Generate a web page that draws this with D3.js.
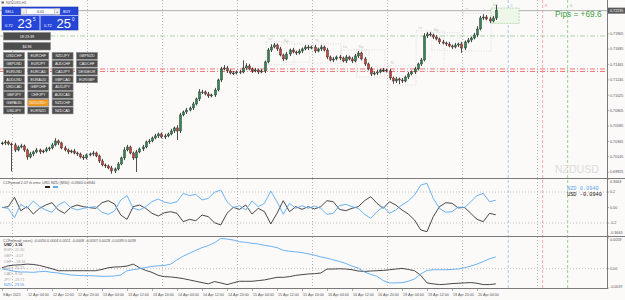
<!DOCTYPE html>
<html><head><meta charset="utf-8">
<script src="https://cdn.jsdelivr.net/npm/d3@7/dist/d3.min.js"></script>
<style>body{margin:0;background:#fcf9f9;} svg{display:block;font-family:"Liberation Sans",Arial,sans-serif;}</style>
</head><body><svg id="c" width="625" height="300"></svg>
<script>
// ---------------- DATA ----------------
const symbolName = "NZDUSD,H1";
const firstOpen = 0.70330;
const closes = [
0.70342,0.70357,0.70328,0.70314,0.70242,0.70285,0.70300,0.70242,0.70142,0.70185,
0.70214,0.70242,0.70214,0.70228,0.70257,0.70271,0.70314,0.70371,0.70342,0.70271,
0.70242,0.70214,0.70228,0.70199,0.70185,0.70142,0.70128,0.70171,0.70185,0.70199,
0.70157,0.70085,0.70028,0.70014,0.69985,0.69942,0.69971,0.70042,0.70128,0.70242,
0.70285,0.70199,0.70128,0.70214,0.70257,0.70285,0.70357,0.70371,0.70414,0.70443,
0.70471,0.70428,0.70443,0.70471,0.70514,0.70557,0.70514,0.70743,0.70786,0.70814,
0.70843,0.70900,0.70972,0.71072,0.71072,0.71043,0.71015,0.71029,0.71100,0.71243,
0.71401,0.71415,0.71372,0.71343,0.71343,0.71358,0.71358,0.71415,0.71444,0.71401,
0.71372,0.71386,0.71358,0.71372,0.71501,0.71672,0.71715,0.71744,0.71687,0.71601,
0.71544,0.71615,0.71672,0.71644,0.71629,0.71658,0.71687,0.71715,0.71701,0.71715,
0.71658,0.71687,0.71715,0.71672,0.71572,0.71529,0.71544,0.71572,0.71558,0.71515,
0.71572,0.71544,0.71515,0.71587,0.71629,0.71544,0.71472,0.71401,0.71329,0.71343,
0.71358,0.71386,0.71386,0.71372,0.71272,0.71229,0.71258,0.71243,0.71229,0.71286,
0.71329,0.71358,0.71401,0.71472,0.71529,0.71873,0.71901,0.71887,0.71858,0.71830,
0.71787,0.71772,0.71758,0.71730,0.71715,0.71744,0.71758,0.71701,0.71787,0.71815,
0.71844,0.71887,0.71973,0.72130,0.72144,0.72116,0.72087,0.72130,0.72235];
// wick lengths in pips (0.0001)
const highWick = [2,3,2,2,3,2,3,2,2,3, 2,3,2,2,3,2,3,4,2,2, 3,2,2,3,2,2,3,2,2,3, 2,2,3,2,2,3,2,3,2,4, 3,2,2,3,2,3,2,3,2,3, 2,2,3,2,3,2,4,3,2,3, 2,3,2,4,3,2,3,2,3,2, 3,4,3,2,3,2,3,11,4,3, 2,3,2,3,2,3,4,3,2,3, 2,3,2,3,2,3,2,3,3,2, 3,2,3,2,3,2,3,2,3,2, 3,2,3,3,3,2,3,2,3,2, 3,2,3,2,3,2,3,2,3,2, 3,2,3,2,3,4,3,3,2,3, 2,3,2,3,2,3,2,3,2,3, 2,3,4,3,4,3,3,3,8];
const lowWick = [2,3,2,38,3,2,2,3,4,2, 3,2,3,2,2,3,2,2,3,2, 2,3,2,2,3,2,3,2,2,3, 2,3,2,3,2,4,3,2,2,3, 2,2,3,20,2,3,2,3,2,2, 3,2,3,2,2,3,13,3,2,3, 2,3,2,3,3,2,3,2,3,2, 3,2,3,2,3,2,3,2,3,2, 3,2,3,2,3,2,3,2,3,2, 3,2,3,2,3,2,3,2,3,2, 3,2,3,2,3,2,3,2,3,2, 3,2,3,2,3,2,3,2,3,2, 3,2,3,2,3,4,3,6,3,2, 3,2,3,2,3,2,3,2,3,2, 3,2,3,2,3,2,3,7,3,2, 3,2,3,2,3,2,3,2,3];

const timeLabels = ["9 Apr 2021","12 Apr 04:00","12 Apr 12:00","12 Apr 20:00","13 Apr 04:00","13 Apr 12:00","13 Apr 20:00","14 Apr 04:00","14 Apr 12:00","14 Apr 20:00","15 Apr 04:00","15 Apr 12:00","15 Apr 20:00","16 Apr 04:00","16 Apr 12:00","16 Apr 20:00","19 Apr 04:00","19 Apr 12:00","19 Apr 20:00","20 Apr 04:00"];
const timeLabelBars = [0,8,16,24,32,40,48,56,64,72,80,88,96,104,112,120,128,136,144,152];

const priceTicks = [0.71905,0.71685,0.71465,0.71245,0.71025,0.70805,0.70585,0.70365,0.70145,0.69925];
const bidPrice = 0.72235;
const bidText = ["0.72","23","5"];
const askText = ["0.72","25","0"];
const lotText = "0.01";
const greenLevel = 0.71873;
const redLevels = [0.71401,0.71365];
const pipsText = "Pips = +69.6";
const markerBars = [162,173,181];
const markerLabels = ["2","R","S"];
const markerColors = ["#8ec3ec","#f09a9a","#7fce6f"];

// sessions: [name, start bar]
const sessions = [["Ln",85],["Ny",90],["Tk",100],["Ln",109],["Ny",114],["Tk",124],["Ln",133],["Ny",138],["Tk",148]];
const currentSession = ["Ln",157];

// CCFp indicator 1 (every second bar)
const nzd1 = [0.002,-0.011,-0.131,0.041,-0.011,0.084,0.011,-0.032,-0.062,0.032,
0.075,-0.002,-0.032,-0.011,0.002,0.011,-0.062,-0.088,-0.045,0.097,
0.153,-0.011,-0.032,0.011,0.075,0.110,0.067,0.054,0.075,0.183,
0.153,0.170,0.097,0.118,0.196,0.226,0.075,-0.002,0.024,-0.032,
0.084,0.011,0.054,0.213,0.075,-0.088,0.054,-0.011,0.024,-0.011,
0.019,-0.011,-0.088,-0.075,0.024,0.041,0.011,-0.011,-0.088,-0.140,
-0.054,0.011,-0.075,-0.032,0.032,0.084,0.161,0.290,0.312,0.118,
-0.011,-0.062,-0.054,0.006,-0.002,0.075,0.153,0.183,0.075,0.094];
const usd1 = [-0.002,0.011,0.131,-0.041,0.011,-0.084,-0.011,0.032,0.062,-0.032,
-0.075,0.002,0.032,0.011,-0.002,-0.011,0.062,0.088,0.045,-0.097,
-0.153,0.011,0.032,-0.011,-0.075,-0.110,-0.067,-0.054,-0.075,-0.183,
-0.153,-0.170,-0.097,-0.118,-0.196,-0.226,-0.075,0.002,-0.024,0.032,
-0.084,-0.011,-0.054,-0.213,-0.075,0.088,-0.054,0.011,-0.024,0.011,
-0.019,0.011,0.088,0.075,-0.024,-0.041,-0.011,0.011,0.088,0.140,
0.054,-0.011,0.075,0.032,-0.032,-0.084,-0.161,-0.290,-0.312,-0.118,
0.011,0.062,0.054,-0.006,0.002,-0.075,-0.153,-0.183,-0.075,-0.094];
const ind1Title = "CCFpmod 2.07 rk emv: USD NZD (M30) -0.0940 0.0940";
const ind1Ticks = [0.3663,0.2,0,-0.2,-0.3663];
const ind1TickText = ["0.3663","0.2","0.00","-0.2","-0.3663"];

// CCFp indicator 2 (every second bar)
const nzd2 = [-0.00006,-0.00025,-0.00051,-0.00063,-0.00063,-0.00070,-0.00057,-0.00051,-0.00070,-0.00082,
-0.00101,-0.00120,-0.00127,-0.00133,-0.00133,-0.00139,-0.00146,-0.00146,-0.00139,-0.00120,
-0.00038,-0.00019,0,0.00025,0.00044,0.00057,0.00063,0.00089,0.00171,0.00241,
0.00298,0.00354,0.00405,0.00443,0.00500,0.00582,0.00570,0.00551,0.00519,0.00506,
0.00487,0.00475,0.00449,0.00430,0.00405,0.00354,0.00335,0.00323,0.00310,0.00285,
0.00260,0.00228,0.00203,0.00171,0.00139,0.00101,0.00051,0.00013,-0.00063,-0.00108,
-0.00146,-0.00228,-0.00272,-0.00272,-0.00266,-0.00241,-0.00196,-0.00101,-0.00032,-0.00019,
-0.00019,-0.00019,-0.00013,-0.00006,0.00019,0.00051,0.00089,0.00139,0.00190,0.00228];
const usd2 = [0.00019,0.00057,0.00070,0.00076,0.00089,0.00082,0.00063,0.00032,0,-0.00038,
-0.00038,-0.00038,-0.00038,-0.00038,-0.00038,-0.00038,-0.00013,0.00019,0.00032,0.00038,
0.00051,0.00089,0.00019,-0.00032,-0.00070,-0.00127,-0.00152,-0.00158,-0.00171,-0.00190,
-0.00215,-0.00241,-0.00266,-0.00291,-0.00247,-0.00272,-0.00304,-0.00272,-0.00241,-0.00241,
-0.00241,-0.00228,-0.00215,-0.00190,-0.00165,-0.00165,-0.00152,-0.00127,-0.00114,-0.00101,
-0.00095,-0.00082,-0.00006,-0.00006,0,-0.00006,-0.00019,-0.00044,-0.00051,-0.00044,
-0.00038,-0.00032,-0.00019,-0.00006,0.00006,-0.00013,-0.00038,-0.00127,-0.00272,-0.00291,
-0.00304,-0.00298,-0.00285,-0.00279,-0.00272,-0.00266,-0.00279,-0.00304,-0.00304,-0.00291];
const ind2Title = "CCFp(mod_rates) -0.0050 0.0004 0.0051 -0.0008 -0.0037 0.0028 -0.0039 0.0039";
const ind2Ticks = [0.0059,0,-0.0037];
const ind2TickText = ["0.0059","0.00","-0.0037"];
const strengthNames = ["USD","EUR","GBP","CHF","AUD","CAD","JPY","NZD"];
const strengthValues = [3.16,20.90,-4.07,-18.34,20.27,8.54,-29.71,29.56];

const clockText = "18:23:39";
const profitText = "$4.96";
const symbols = [
 ["USDCHF","EURCHF","NZDJPY","GBPNZD"],
 ["GBPUSD","EURJPY","AUDCHF","CADCHF"],
 ["EURUSD","EURCAD","CADJPY","DE30EUR"],
 ["AUDUSD","EURAUD","GBPCAD","EURGBP"],
 ["USDCAD","GBPCHF","AUDJPY",""],
 ["GBPJPY","CHFJPY","AUDCAD",""],
 ["GBPAUD","NZDUSD \u2022","NZDCHF",""],
 ["USDJPY","EURNZD","NZDCAD",""]];
const activeSymbol = "NZDUSD \u2022";
const watermark = "NZDUSD";

// ---------------- DRAW ----------------
const W=625,H=300,AX=607;
const svg=d3.select("#c");
svg.append("rect").attr("width",W).attr("height",H).attr("fill","#fcf9f9");

const xBar=d3.scaleLinear().domain([0,158]).range([2,495.75]);
const yMain=d3.scaleLinear().domain([0.69927,0.72230]).range([172,11]);
const y1=d3.scaleLinear().domain([-0.2,0.2]).range([223,192]);
const y2=d3.scaleLinear().domain([-0.0037,0.0059]).range([288,238]);
const FS=3.7;

const bars=closes.map((c,i)=>{const o=i===0?firstOpen:closes[i-1];
  return {i,o,c,hi:Math.max(o,c)+highWick[i]*1e-4,lo:Math.min(o,c)-lowWick[i]*1e-4};});

// vertical grid
const gridX=d3.range(12,AX,75);
[[0,178],[179,236],[237,288]].forEach(([a,b])=>{
  svg.append("g").selectAll("line").data(gridX).join("line")
   .attr("x1",d=>d+0.5).attr("x2",d=>d+0.5).attr("y1",a).attr("y2",b)
   .attr("stroke","#9a9a9a").attr("stroke-width",0.7).attr("stroke-dasharray","1,2");
});

// main horizontal levels
svg.append("line").attr("x1",0).attr("x2",AX).attr("y1",yMain(bidPrice)).attr("y2",yMain(bidPrice))
  .attr("stroke","#9a9a9a").attr("stroke-width",0.8);
svg.append("line").attr("x1",0).attr("x2",AX).attr("y1",yMain(greenLevel)).attr("y2",yMain(greenLevel))
  .attr("stroke","#9fd39a").attr("stroke-width",0.9).attr("stroke-dasharray","5,2,1,2");
svg.append("g").selectAll("line").data(redLevels).join("line")
  .attr("x1",0).attr("x2",AX).attr("y1",d=>yMain(d)).attr("y2",d=>yMain(d))
  .attr("stroke","#e86a6a").attr("stroke-width",0.9).attr("stroke-dasharray","5,2,1,2");

// vertical markers
markerBars.forEach((b,k)=>{
  svg.append("line").attr("x1",xBar(b)).attr("x2",xBar(b)).attr("y1",0).attr("y2",288)
   .attr("stroke",markerColors[k]).attr("stroke-width",0.8).attr("stroke-dasharray","3,2");
  svg.append("text").attr("x",xBar(b)+2).attr("y",7).attr("font-size",FS).attr("fill",markerColors[k]).text(markerLabels[k]);
});

// session boxes
function sessExtent(s){const e=Math.min(158,s+8);const sl=bars.slice(s,e+1);
  return [d3.max(sl,d=>d.hi),d3.min(sl,d=>d.lo)];}
sessions.forEach(([n,s])=>{
  const [hi,lo]=sessExtent(s);
  const x0=xBar(s)-1.5,x1=xBar(s+8)+1.5;
  svg.append("rect").attr("x",x0).attr("y",yMain(hi)-1).attr("width",x1-x0).attr("height",yMain(lo)-yMain(hi)+2)
   .attr("fill","none").attr("stroke","#cfcfcf").attr("stroke-width",0.7).attr("stroke-dasharray","1,1.5");
  svg.append("text").attr("x",x0+2).attr("y",yMain(hi)-3).attr("font-size",FS).attr("fill","#c4c4c4").text(n);
});
{
  const [n,s]=currentSession;const [hi,lo]=sessExtent(s);
  const x0=xBar(s)-1.5,x1=xBar(s+8)+1.5;
  svg.append("rect").attr("x",x0).attr("y",yMain(hi)+3).attr("width",x1-x0).attr("height",yMain(lo)-yMain(hi)-2)
   .attr("fill","#eef7ea").attr("stroke","#9fd39a").attr("stroke-width",0.7).attr("stroke-dasharray","2,1");
  svg.append("text").attr("x",x0+2).attr("y",6).attr("font-size",FS).attr("fill","#6fbf5f").text(n);
}

// candles
const cg=svg.append("g");
cg.selectAll("line").data(bars).join("line")
  .attr("x1",d=>Math.round(xBar(d.i))+0.5).attr("x2",d=>Math.round(xBar(d.i))+0.5)
  .attr("y1",d=>yMain(d.hi)).attr("y2",d=>yMain(d.lo)).attr("stroke","#222").attr("stroke-width",0.8);
cg.selectAll("rect").data(bars).join("rect")
  .attr("x",d=>Math.round(xBar(d.i))-0.5).attr("width",2)
  .attr("y",d=>yMain(Math.max(d.o,d.c))).attr("height",d=>Math.max(0.8,Math.abs(yMain(d.o)-yMain(d.c))))
  .attr("fill",d=>d.c>=d.o?"#2f8a52":"#c94436").attr("stroke","#1a1a1a").attr("stroke-width",0.4);

// watermark & pips
svg.append("text").attr("x",555).attr("y",173).attr("font-size",10.5).attr("fill","#dcdcdc").text(watermark);
svg.append("text").attr("x",555).attr("y",17).attr("font-size",8.3).attr("fill","#3e9e3e").text(pipsText);

// indicator 1 grid and lines
[0.2,-0.2].forEach(v=>svg.append("line").attr("x1",0).attr("x2",AX).attr("y1",y1(v)).attr("y2",y1(v))
  .attr("stroke","#aaa").attr("stroke-width",0.7).attr("stroke-dasharray","1,2"));
const l1=d3.line().x((d,k)=>xBar(2*k)).y(d=>y1(d));
svg.append("path").attr("d",l1(usd1)).attr("fill","none").attr("stroke","#333").attr("stroke-width",0.9);
svg.append("path").attr("d",l1(nzd1)).attr("fill","none").attr("stroke","#5aaaf0").attr("stroke-width",0.9);
svg.append("text").attr("x",3).attr("y",184).attr("font-size",FS).attr("fill","#555").text(ind1Title);
svg.append("rect").attr("x",45).attr("y",186).attr("width",5).attr("height",2).attr("fill","#222");
svg.append("rect").attr("x",53).attr("y",186).attr("width",5).attr("height",2).attr("fill","#5aaaf0");
svg.append("text").attr("x",567).attr("y",190).attr("font-size",5.3).attr("font-family","Liberation Mono, monospace").attr("fill","#5aaaf0")
  .text("NZD   "+nzd1[nzd1.length-1].toFixed(4));
svg.append("text").attr("x",567).attr("y",196).attr("font-size",5.3).attr("font-family","Liberation Mono, monospace").attr("fill","#222")
  .text("USD  "+usd1[usd1.length-1].toFixed(4));

// indicator 2
svg.append("line").attr("x1",0).attr("x2",AX).attr("y1",y2(0)).attr("y2",y2(0))
  .attr("stroke","#aaa").attr("stroke-width",0.7).attr("stroke-dasharray","1,2");
const l2=d3.line().x((d,k)=>xBar(2*k)).y(d=>y2(d));
svg.append("path").attr("d",l2(usd2)).attr("fill","none").attr("stroke","#333").attr("stroke-width",0.9);
svg.append("path").attr("d",l2(nzd2)).attr("fill","none").attr("stroke","#5aaaf0").attr("stroke-width",0.9);
svg.append("text").attr("x",3).attr("y",241.5).attr("font-size",FS).attr("fill","#555").text(ind2Title);
strengthNames.forEach((n,k)=>{
  const col=n==="USD"?"#111":n==="NZD"?"#4a9ae8":"#a8a8a8";
  svg.append("text").attr("x",4).attr("y",245.5+5.85*k).attr("font-size",FS).attr("fill",col)
   .attr("font-weight",n==="USD"?"bold":"normal").text(n+" - "+strengthValues[k].toFixed(2));
});

// frames
svg.append("line").attr("x1",0).attr("x2",W).attr("y1",178.5).attr("y2",178.5).attr("stroke","#7a7a7a").attr("stroke-width",1);
svg.append("line").attr("x1",0).attr("x2",W).attr("y1",236.5).attr("y2",236.5).attr("stroke","#7a7a7a").attr("stroke-width",1);
svg.append("line").attr("x1",0).attr("x2",AX).attr("y1",288.5).attr("y2",288.5).attr("stroke","#7a7a7a").attr("stroke-width",1);
svg.append("line").attr("x1",AX+0.5).attr("x2",AX+0.5).attr("y1",0).attr("y2",289).attr("stroke","#7a7a7a").attr("stroke-width",1);

// right axes (labels clamped inside their panels)
function rlabel(y,t,lo,hi){const yl=Math.max(lo,Math.min(hi,y));
  svg.append("line").attr("x1",AX).attr("x2",AX+2).attr("y1",y).attr("y2",y).attr("stroke","#777").attr("stroke-width",0.6);
  svg.append("text").attr("x",AX+3).attr("y",yl).attr("dy","0.35em").attr("font-size",FS).attr("fill","#555").text(t);}
priceTicks.forEach(p=>rlabel(yMain(p),p.toFixed(5),2,176));
ind1Ticks.forEach((v,k)=>rlabel(y1(v),ind1TickText[k],181.5,232.5));
ind2Ticks.forEach((v,k)=>rlabel(y2(v),ind2TickText[k],240,286.5));
{const yb=yMain(bidPrice);
 svg.append("rect").attr("x",AX+1).attr("y",yb-3).attr("width",17).attr("height",6).attr("fill","#5a5a5a");
 svg.append("text").attr("x",AX+3).attr("y",yb).attr("dy","0.35em").attr("font-size",FS).attr("fill","#fff").text(bidPrice.toFixed(5));}

// time axis
timeLabelBars.forEach((b,k)=>{const x=Math.round(xBar(b))+0.5;
  svg.append("line").attr("x1",x).attr("x2",x).attr("y1",288).attr("y2",291).attr("stroke","#777").attr("stroke-width",0.6);
  svg.append("text").attr("x",x+0.5).attr("y",296).attr("font-size",FS).attr("fill","#555").text(timeLabels[k]);});

// title
svg.append("rect").attr("x",1.5).attr("y",1.5).attr("width",2.5).attr("height",2).attr("fill","#666");
svg.append("text").attr("x",6).attr("y",4.3).attr("font-size",3.6).attr("fill","#666").text(symbolName);

// trade panel
const tp=svg.append("g");
tp.append("rect").attr("x",2).attr("y",7).attr("width",76).attr("height",23).attr("fill","#2646d8").attr("stroke","#1733b0").attr("stroke-width",0.6);
tp.append("line").attr("x1",2).attr("x2",78).attr("y1",15.5).attr("y2",15.5).attr("stroke","#fff").attr("stroke-width",0.6);
tp.append("line").attr("x1",40).attr("x2",40).attr("y1",15.5).attr("y2",30).attr("stroke","#fff").attr("stroke-width",0.8);
tp.append("text").attr("x",5).attr("y",13).attr("font-size",FS).attr("fill","#fff").text("SELL");
tp.append("text").attr("x",63).attr("y",13).attr("font-size",FS).attr("fill","#fff").text("BUY");
tp.append("rect").attr("x",21).attr("y",8.5).attr("width",39).attr("height",6).attr("fill","#fff");
tp.append("rect").attr("x",21).attr("y",8.5).attr("width",5.5).attr("height",6).attr("fill","#eee").attr("stroke","#999").attr("stroke-width",0.4);
tp.append("rect").attr("x",54.5).attr("y",8.5).attr("width",5.5).attr("height",6).attr("fill","#eee").attr("stroke","#999").attr("stroke-width",0.4);
tp.append("text").attr("x",23).attr("y",13).attr("font-size",FS).attr("fill","#333").text("-");
tp.append("text").attr("x",56).attr("y",13).attr("font-size",FS).attr("fill","#333").text("+");
tp.append("text").attr("x",40.5).attr("y",13).attr("text-anchor","middle").attr("font-size",FS).attr("fill","#333").text(lotText);
[[bidText,4],[askText,43]].forEach(([t,x0])=>{
  tp.append("text").attr("x",x0+1).attr("y",27).attr("font-size",4).attr("fill","#fff").text(t[0]);
  tp.append("text").attr("x",x0+13.5).attr("y",28.3).attr("font-size",13).attr("fill","#fff").text(t[1]);
  tp.append("text").attr("x",x0+29).attr("y",21).attr("font-size",4.5).attr("fill","#fff").text(t[2]);
});
function btn(x,y,w,h,t,fill){
  tp.append("rect").attr("x",x+0.5).attr("y",y+0.5).attr("width",w).attr("height",h).attr("fill",fill)
    .attr("stroke","#8a8a8a").attr("stroke-width",0.6);
  tp.append("text").attr("x",x+0.5+w/2).attr("y",y+0.5+h/2).attr("dy","0.35em").attr("text-anchor","middle")
    .attr("font-size",FS).attr("fill","#f2f2f2").text(t);
}
btn(3,32,47,7.5,clockText,"#4d4d4d");
btn(3,42,47,7.5,profitText,"#4d4d4d");
symbols.forEach((row,r)=>row.forEach((s,c)=>{ if(!s) return;
  btn(3+24.3*c,52+7.8*r,21,6.8,s,s===activeSymbol?"#f39a1e":"#4d4d4d");}));
</script></body></html>
